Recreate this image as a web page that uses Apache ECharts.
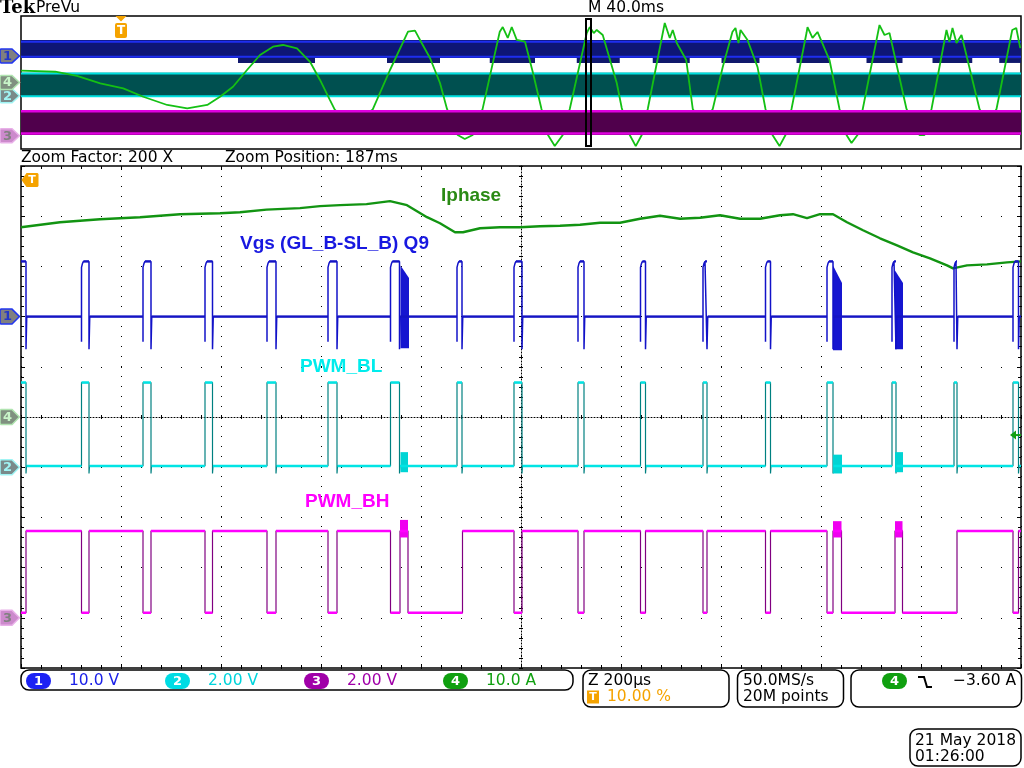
<!DOCTYPE html>
<html><head><meta charset="utf-8">
<script src="https://cdn.jsdelivr.net/npm/echarts@6/dist/echarts.min.js"></script>
<style>html,body{margin:0;padding:0;background:#fff}#c{width:1024px;height:768px}</style>
</head><body><div id="c"></div><script>
// ---------------- channel settings ----------------
const CH_SCALE = [10, 2, 2, 10];     // units per division, ch1..ch4
const CH_OFFSET = [2, -1, -4, 0];    // ground marker position (divisions)
const toDiv = (ch, v) => CH_OFFSET[ch - 1] + v / CH_SCALE[ch - 1];

// ---------------- PreVu overview (time in ms, trigger = 0) ----------------
const ovRecord = [-40, 360];
const zoomWindow = [186, 188];
const ovIphase = [[-40,8.9],[-26.3,8.1],[-17.6,4.9],[-8.3,-0.6],[0.9,-4.4],[8.9,-10.7],[18.5,-16.9],[26.5,-19.4],[34.5,-16.9],[39.6,-10.7],[44.8,-3.2],[50.4,9.4],[55.6,20.7],[60.8,26.9],[64.8,28.2],[70.4,25.7],[75.6,15.6],[79.6,1.9],[83.6,-13.2],[85.6,-20.7],[92.4,-32.0],[100.7,-20.2],[107.6,9.4],[114.8,38.2],[117.6,39.0],[119.6,32.0],[123.6,18.4],[127.6,-0.4],[130.4,-19.9],[134.7,-39.5],[137.5,-42.5],[140.7,-39.5],[144.6,-20.2],[151.5,38.2],[152.7,41.7],[154.7,33.5],[156.3,41.7],[158.3,32.0],[161.6,30.7],[164.8,7.1],[168.2,-19.9],[170.8,-39.5],[173.5,-47.8],[176.7,-39.5],[179.5,-19.9],[186.3,37.2],[187.5,41.7],[189.1,37.2],[190.3,39.5],[192.7,35.7],[198.3,-0.4],[200.3,-19.2],[203.5,-39.5],[205.9,-47.8],[208.3,-39.5],[210.7,-19.9],[217.5,44.7],[219.5,33.5],[220.7,39.5],[222.3,29.7],[226.1,16.9],[228.7,-19.9],[232.7,-32.0],[236.7,-19.9],[240.7,11.7],[244.6,38.2],[245.8,41.0],[247.0,29.7],[247.8,39.5],[250.6,32.0],[254.6,11.7],[257.8,-19.9],[260.6,-39.5],[263.4,-47.8],[265.8,-39.5],[268.2,-19.9],[274.2,37.2],[274.6,41.7],[276.6,33.5],[278.6,38.0],[283.4,16.9],[287.4,-19.9],[290.2,-39.5],[292.2,-45.5],[294.6,-39.5],[296.7,-19.9],[303.4,43.2],[303.8,44.7],[305.4,35.7],[307.4,37.2],[314.2,-19.9],[319.4,-39.5],[320.2,-41.0],[321.4,-39.5],[324.2,-19.9],[330.2,39.5],[331.4,30.5],[332.6,41.0],[334.2,29.7],[336.2,35.7],[343.4,-19.9],[346.6,-32.0],[350.2,-19.9],[356.5,39.5],[358.1,41.0],[359.7,25.9]];
const ovCh1Band = [-1.6, 11.9];
const ovCh1Lines = [-0.6, 10.7];
const ovCh1Fringe = [[46.8,77.6],[106.4,127.6],[147.5,165.6],[182.3,199.5],[212.7,227.5],[240.2,255.4],[270.2,283.4],[298.2,312.6],[324.6,340.5],[351.3,360]];
const ovCh1FringeLevels = [-5.3, -1.6];
const ovCh2Band = [-0.15, 3.45];
const ovCh2Lines = [-0.05, 3.35];
const ovCh3Band = [0.12, 3.88];
const ovCh3Lines = [0.34, 3.68];

// ---------------- zoomed view (time in µs around zoom position) ----------------
const zoomSpan = [-1000, 1000];
const iphase = [[-1000,37.8],[-922,38.8],[-842,39.4],[-762,39.8],[-682,40.4],[-602,40.6],[-562,40.8],[-509,41.3],[-442,41.6],[-402,42.0],[-362,42.2],[-309,42.4],[-262,43.0],[-228,42.2],[-188,39.8],[-162,38.6],[-132,36.8],[-116,36.8],[-82,37.6],[-42,37.8],[-2,37.8],[38,38.0],[78,38.1],[118,38.3],[158,38.7],[198,38.7],[238,39.5],[278,40.1],[318,39.5],[358,39.7],[398,40.2],[438,39.5],[478,39.5],[518,40.2],[544,40.4],[572,39.6],[598,40.4],[624,40.4],[652,38.8],[684,37.2],[718,35.6],[752,34.2],[784,32.8],[818,31.6],[852,30.2],[864,29.6],[892,30.2],[932,30.4],[972,30.8],[1000,31.0]];
// low-side PWM pulses (PWM_BL high, Vgs high)
const blPulses = [[-1000,-990],[-879,-864],[-756,-740],[-632,-617],[-508,-490],[-386,-368],[-261,-243],[-128,-118],[-14,2],[114,126],[239,249],[364,372],[489,499],[612,624],[742,750],[866,872],[984,995]];
// high-side PWM low intervals
const bhLow = [[-1000,-990],[-879,-864],[-756,-740],[-632,-617],[-508,-490],[-386,-368],[-261,-242],[-226,-117],[-14,2],[114,126],[239,249],[364,372],[489,499],[612,624],[641,748],[763,872],[984,995]];
// Vgs levels (V)
const vgsLevels = [0, -5, 9.8, 10.6, 11.0, -6.5]; // base, pre-spike, rise, shoulder, top, post-spike
// ringing bursts [t0, t1, topStart, topEnd, bottom] (V)
const vgsBursts = [[-241,-224,10.2,7.7,-6.3],[624,642,10.2,6.7,-6.7],[748,764,9.2,6.7,-6.5]];
const blLevels = [0.05, 3.37, -0.25]; // low, high, edge spike
const blBursts = [[-241,-226,-0.2,0.6],[624,642,-0.25,0.5],[748,764,-0.2,0.6]];
const bhLevels = [3.46, 0.2]; // high, low
const bhBursts = [[-242,-226,3.2,3.9],[624,641,3.2,3.85],[748,763,3.2,3.85]];
const triggerLevel = -3.6; // A, ch4

// ---------------- builders ----------------
function vgsData() {
  const [base, pre, rise, sh, top, post] = vgsLevels;
  const d = [];
  blPulses.forEach(([a, b]) => {
    if (a > zoomSpan[0]) d.push([a, base], [a, pre], [a, rise], [a + 2, sh], [a + 4, top]);
    else d.push([a, top]);
    d.push([b, top], [b, post], [b + 1.5, base]);
  });
  d.push([zoomSpan[1], base]);
  return d.map(([t, v]) => [t, toDiv(1, v)]);
}
function stepData(ch, intervals, idle, active, spike) {
  const d = [];
  if (intervals[0][0] > zoomSpan[0]) d.push([zoomSpan[0], idle]);
  intervals.forEach(([a, b]) => {
    if (a > zoomSpan[0]) d.push([a, idle]);
    d.push([a, active], [b, active]);
    if (spike != null) d.push([b, spike], [b + 1, idle]); else d.push([b, idle]);
  });
  d.push([zoomSpan[1], idle]);
  return d.map(([t, v]) => [t, toDiv(ch, v)]);
}
function flats(d) {
  const out = [];
  for (let i = 0; i < d.length - 1; i++) {
    if (d[i][1] === d[i + 1][1] && d[i + 1][0] > d[i][0]) out.push(d[i], d[i + 1], [d[i + 1][0], '-']);
  }
  return out;
}
const vgs = vgsData();
const blData = stepData(2, blPulses, blLevels[0], blLevels[1], blLevels[2]);
const bhData = stepData(3, bhLow, bhLevels[0], bhLevels[1], null);

function rectCustom(xi, yi, rows, style, z) {
  return {
    type: 'custom', xAxisIndex: xi, yAxisIndex: yi, z, silent: true, clip: true,
    encode: { x: [0, 1], y: [2, 3] },
    data: rows,
    renderItem: (p, api) => {
      const a = api.coord([api.value(0), api.value(3)]);
      const b = api.coord([api.value(1), api.value(2)]);
      return { type: 'rect', shape: { x: a[0], y: a[1], width: b[0] - a[0], height: b[1] - a[1] }, style };
    }
  };
}
function bandCustom(ch, band, lines, fill, lineColor, lw, z) {
  return {
    type: 'custom', xAxisIndex: 0, yAxisIndex: 0, z, silent: true, clip: true,
    encode: { x: [0, 1], y: [2, 3] },
    data: [[ovRecord[0], ovRecord[1], toDiv(ch, band[0]), toDiv(ch, band[1]), toDiv(ch, lines[0]), toDiv(ch, lines[1])]],
    renderItem: (p, api) => {
      const x0 = api.value(0), x1 = api.value(1);
      const a = api.coord([x0, api.value(3)]), b = api.coord([x1, api.value(2)]);
      const l0a = api.coord([x0, api.value(4)]), l0b = api.coord([x1, api.value(4)]);
      const l1a = api.coord([x0, api.value(5)]), l1b = api.coord([x1, api.value(5)]);
      return { type: 'group', children: [
        { type: 'rect', shape: { x: a[0], y: a[1], width: b[0] - a[0], height: b[1] - a[1] }, style: { fill } },
        { type: 'line', shape: { x1: l0a[0], y1: l0a[1], x2: l0b[0], y2: l0b[1] }, style: { stroke: lineColor, lineWidth: lw } },
        { type: 'line', shape: { x1: l1a[0], y1: l1a[1], x2: l1b[0], y2: l1b[1] }, style: { stroke: lineColor, lineWidth: lw } }
      ] };
    }
  };
}
function lineS(data, color, width, z) {
  return { type: 'line', xAxisIndex: 1, yAxisIndex: 1, data, showSymbol: false, symbol: 'none', silent: true,
    connectNulls: false, z, lineStyle: { color, width }, clip: true };
}

const tickStyle = { color: '#000', width: 1 };
const frameAxis = (pos, extra) => Object.assign({
  gridIndex: 1, type: 'value', position: pos, axisLine: { show: false, onZero: false },
  axisTick: { show: true, inside: true, length: 4, lineStyle: tickStyle },
  minorTick: { show: true, splitNumber: 5, length: 3, lineStyle: tickStyle },
  axisLabel: { show: false }, splitLine: { show: false }
}, extra);
const centerAxis = (pos, extra) => Object.assign({
  gridIndex: 1, type: 'value', position: pos,
  axisLine: { show: true, onZero: true, onZeroAxisIndex: 1, lineStyle: { color: '#000', width: 1, type: [1, 2] } },
  axisTick: { show: true, inside: true, length: 2, lineStyle: tickStyle },
  minorTick: { show: true, splitNumber: 5, length: 2, lineStyle: tickStyle },
  axisLabel: { show: false }, splitLine: { show: false }
}, extra);

const option = {
  animation: false,
  backgroundColor: '#fff',
  grid: [
    { left: 21, top: 16, width: 1000, height: 133, show: true, borderColor: '#000', borderWidth: 1.5, backgroundColor: '#fff', outerBoundsMode: 'none' },
    { left: 21, top: 166, width: 1000, height: 502, show: true, borderColor: '#000', borderWidth: 1.5, outerBoundsMode: 'none' }
  ],
  xAxis: [
    { gridIndex: 0, type: 'value', min: ovRecord[0], max: ovRecord[1], show: false },
    frameAxis('bottom', { min: zoomSpan[0], max: zoomSpan[1], interval: 200,
      splitLine: { show: true, lineStyle: { color: '#000', width: 1, type: [1, 9] } } }),
    frameAxis('top', { min: zoomSpan[0], max: zoomSpan[1], interval: 200 }),
    centerAxis('bottom', { min: zoomSpan[0], max: zoomSpan[1], interval: 200 }),
    centerAxis('top', { min: zoomSpan[0], max: zoomSpan[1], interval: 200,
      axisLine: { show: false, onZero: true, onZeroAxisIndex: 1 } })
  ],
  yAxis: [
    { gridIndex: 0, type: 'value', min: -5, max: 5, show: false },
    frameAxis('left', { min: -5, max: 5, interval: 1,
      splitLine: { show: true, lineStyle: { color: '#000', width: 1, type: [1, 19] } } }),
    frameAxis('right', { min: -5, max: 5, interval: 1 }),
    centerAxis('left', { min: -5, max: 5, interval: 1 }),
    centerAxis('right', { min: -5, max: 5, interval: 1,
      axisLine: { show: false, onZero: true, onZeroAxisIndex: 1 } })
  ],
  series: [
    // overview
    bandCustom(1, ovCh1Band, ovCh1Lines, '#0e1676', '#1e2ef0', 2, 1),
    rectCustom(0, 0, ovCh1Fringe.map(([a, b]) => [a, b, toDiv(1, ovCh1FringeLevels[0]), toDiv(1, ovCh1FringeLevels[1])]), { fill: '#10186c' }, 1),
    bandCustom(2, ovCh2Band, ovCh2Lines, '#005050', '#00e0e0', 2, 1),
    { type: 'line', xAxisIndex: 0, yAxisIndex: 0, data: ovIphase.map(([t, a]) => [t, toDiv(4, a)]), showSymbol: false, symbol: 'none',
      silent: true, z: 3, lineStyle: { color: '#14c014', width: 1.8 }, clip: true },
    bandCustom(3, ovCh3Band, ovCh3Lines, '#50004c', '#e000e0', 2.5, 4),
    { type: 'custom', xAxisIndex: 0, yAxisIndex: 0, z: 6, silent: true, encode: { x: [0, 1], y: [2, 3] },
      data: [[zoomWindow[0], zoomWindow[1], -4.77, 4.77]],
      renderItem: (p, api) => {
        const a = api.coord([api.value(0), api.value(3)]);
        const b = api.coord([api.value(1), api.value(2)]);
        return { type: 'rect', shape: { x: a[0], y: a[1], width: b[0] - a[0], height: b[1] - a[1] }, style: { fill: 'none', stroke: '#000', lineWidth: 2 } };
      } },
    // zoomed view
    lineS(iphase.map(([t, a]) => [t, toDiv(4, a)]), '#129412', 2.4, 3),
    lineS(vgs, '#1212c8', 1.5, 4),
    lineS(flats(vgs), '#1414c4', 2.2, 4),
    { type: 'custom', xAxisIndex: 1, yAxisIndex: 1, z: 4, silent: true, clip: true, encode: { x: [0, 1], y: [2, 4] },
      data: vgsBursts.map(([a, b, t0, t1, bot]) => [a, b, toDiv(1, t0), toDiv(1, t1), toDiv(1, bot)]),
      renderItem: (p, api) => {
        const a = api.value(0), b = api.value(1);
        const pts = [api.coord([a, api.value(2)]), api.coord([b, api.value(3)]), api.coord([b, api.value(4)]), api.coord([a, api.value(4)])];
        return { type: 'polygon', shape: { points: pts }, style: { fill: '#1616d0' } };
      } },
    lineS(blData, '#008080', 1.2, 5),
    lineS(flats(blData), '#00e4e4', 2.5, 6),
    rectCustom(1, 1, blBursts.map(([a, b, lo, hi]) => [a, b, toDiv(2, lo), toDiv(2, hi)]), { fill: '#00d4d4' }, 6),
    lineS(bhData, '#800080', 1.2, 5),
    lineS(flats(bhData), '#ff00ff', 2.5, 6),
    rectCustom(1, 1, bhBursts.map(([a, b, lo, hi]) => [a, b, toDiv(3, lo), toDiv(3, hi)]), { fill: '#f000f0' }, 6)
  ]
};

const chart = echarts.init(document.getElementById('c'), null, { renderer: 'canvas', width: 1024, height: 768 });
chart.setOption(option);

// ---------------- chrome (text, markers, readouts) ----------------
const F = '"DejaVu Sans", sans-serif';
const txt = (x, y, text, fill, size, extra) => Object.assign({ type: 'text', x, y, z: 100,
  style: { text, fill, font: (size || 15.5) + 'px ' + F, verticalAlign: 'middle', align: 'left' } }, extra || {});
const yMain = v => chart.convertToPixel({ yAxisIndex: 1 }, v);
const yOv = v => chart.convertToPixel({ yAxisIndex: 0 }, v);
const xOv = v => chart.convertToPixel({ xAxisIndex: 0 }, v);

function chMarker(y, label, fill, stroke, tcol, h) {
  const hh = h / 2;
  return { type: 'group', x: 0, y, z: 100, children: [
    { type: 'polygon', z: 100, shape: { points: [[1, -hh], [12, -hh], [19.5, 0], [12, hh], [1, hh], [0, hh - 1], [0, -hh + 1]] }, style: { fill, stroke, lineWidth: 1.5 } },
    { type: 'text', z: 101, x: 7.5, y: 0.5, style: { text: label, fill: tcol, font: 'bold 13px ' + F, align: 'center', verticalAlign: 'middle' } }
  ] };
}
const M1 = ['#808080', '#2236f0', '#2236c8'];
const M4 = ['#809080', '#b0e4b0', '#c8f4c8'];
const M2 = ['#7a8a8a', '#a0f4f4', '#a0f4f4'];
const M3 = ['#cc8acc', '#e8b0e8', '#808080'];

const pill = (x, label, color) => ({ type: 'group', z: 100, children: [
  { type: 'rect', z: 100, shape: { x, y: 673, width: 25, height: 16, r: 8 }, style: { fill: color } },
  { type: 'text', z: 101, x: x + 12.5, y: 681.5, style: { text: label, fill: '#fff', font: 'bold 13px ' + F, align: 'center', verticalAlign: 'middle' } }
] });
const box = (x, y, w, h) => ({ type: 'rect', z: 99, shape: { x, y, width: w, height: h, r: 8 }, style: { fill: 'none', stroke: '#000', lineWidth: 1.5 } });

const trigX = xOv(0);
const trigLevelY = yMain(toDiv(4, triggerLevel));
const ORANGE = '#f5a300';

const graphic = [
  // header
  { type: 'text', x: 0, y: 8, z: 100, style: { text: 'Tek', fill: '#000', font: 'bold 18px "DejaVu Serif", serif', verticalAlign: 'middle' } },
  txt(36, 8, 'PreVu', '#000'),
  txt(588, 8, 'M 40.0ms', '#000'),
  txt(21, 158, 'Zoom Factor: 200 X', '#000'),
  txt(225, 158, 'Zoom Position: 187ms', '#000'),
  // overview trigger marker
  { type: 'group', x: trigX, y: 0, z: 100, children: [
    { type: 'polygon', z: 100, shape: { points: [[-5.5, 16], [5.5, 16], [0, 21.5]] }, style: { fill: ORANGE } },
    { type: 'rect', z: 100, shape: { x: -6, y: 23, width: 12, height: 15, r: 2 }, style: { fill: ORANGE } },
    { type: 'text', z: 101, x: 0, y: 31, style: { text: 'T', fill: '#fff', font: 'bold 12px ' + F, align: 'center', verticalAlign: 'middle' } }
  ] },
  // overview channel markers
  chMarker(yOv(CH_OFFSET[0]), '1', ...M1, 14),
  chMarker(yOv(CH_OFFSET[1]), '2', ...M2, 14),
  chMarker(yOv(CH_OFFSET[3]), '4', ...M4, 14),
  chMarker(yOv(CH_OFFSET[2]), '3', ...M3, 14),
  // main channel markers
  chMarker(yMain(CH_OFFSET[0]), '1', ...M1, 15),
  chMarker(yMain(CH_OFFSET[3]), '4', ...M4, 15),
  chMarker(yMain(CH_OFFSET[1]), '2', ...M2, 15),
  chMarker(yMain(CH_OFFSET[2]), '3', ...M3, 15),
  // main trigger position marker
  { type: 'group', x: 21.5, y: 180, z: 100, children: [
    { type: 'polygon', z: 100, shape: { points: [[0, 0], [5, -7], [16, -7], [17, -6], [17, 6], [16, 7], [5, 7]] }, style: { fill: ORANGE } },
    { type: 'text', z: 101, x: 10.5, y: 0.5, style: { text: 'T', fill: '#fff', font: 'bold 11px ' + F, align: 'center', verticalAlign: 'middle' } }
  ] },
  // trigger level arrow
  { type: 'group', x: 1010, y: trigLevelY, z: 100, children: [
    { type: 'polygon', z: 100, shape: { points: [[0, 0], [6, -4.5], [6, 4.5]] }, style: { fill: '#10a010' } },
    { type: 'line', z: 100, shape: { x1: 5, y1: 0, x2: 11, y2: 0 }, style: { stroke: '#10a010', lineWidth: 2 } }
  ] },
  // trace labels
  { type: 'text', x: 441, y: 196, z: 100, style: { text: 'Iphase', fill: '#2a8a14', font: 'bold 19px "Liberation Sans", Arial, sans-serif', verticalAlign: 'middle' } },
  { type: 'text', x: 240, y: 244, z: 100, style: { text: 'Vgs (GL_B-SL_B) Q9', fill: '#1818e0', font: 'bold 19px "Liberation Sans", Arial, sans-serif', verticalAlign: 'middle' } },
  { type: 'text', x: 300, y: 367, z: 100, style: { text: 'PWM_BL', fill: '#00ecec', font: 'bold 19px "Liberation Sans", Arial, sans-serif', verticalAlign: 'middle' } },
  { type: 'text', x: 305, y: 502, z: 100, style: { text: 'PWM_BH', fill: '#ff00ff', font: 'bold 19px "Liberation Sans", Arial, sans-serif', verticalAlign: 'middle' } },
  // bottom readouts
  box(21, 670, 552, 20),
  pill(26, '1', '#1c22f4'), txt(69, 681, '10.0 V', '#1c22e8'),
  pill(165, '2', '#00dce4'), txt(208, 681, '2.00 V', '#00d4dc'),
  pill(304, '3', '#a000a8'), txt(347, 681, '2.00 V', '#a000a8'),
  pill(443, '4', '#10a010'), txt(486, 681, '10.0 A', '#10a010'),
  box(583, 670, 146, 37),
  txt(588, 681, 'Z 200µs', '#000'),
  { type: 'rect', z: 100, shape: { x: 587, y: 690.5, width: 12, height: 13 }, style: { fill: ORANGE } },
  { type: 'text', z: 101, x: 593, y: 697.5, style: { text: 'T', fill: '#fff', font: 'bold 11px ' + F, align: 'center', verticalAlign: 'middle' } },
  txt(607, 697, '10.00 %', ORANGE),
  box(737.5, 670, 106, 37),
  txt(743, 681, '50.0MS/s', '#000'),
  txt(743, 697, '20M points', '#000'),
  box(851, 670, 170.5, 37),
  pill(882, '4', '#10a010'),
  { type: 'polyline', z: 100, shape: { points: [[918, 677], [924, 677], [927, 687], [932, 687]] }, style: { stroke: '#000', lineWidth: 2, fill: 'none' } },
  txt(953, 681, '\u22123.60 A', '#000'),
  box(910, 729, 111, 37),
  txt(915, 741, '21 May 2018', '#000'),
  txt(915, 756.5, '01:26:00', '#000')
];
chart.setOption({ graphic });
</script></body></html>
